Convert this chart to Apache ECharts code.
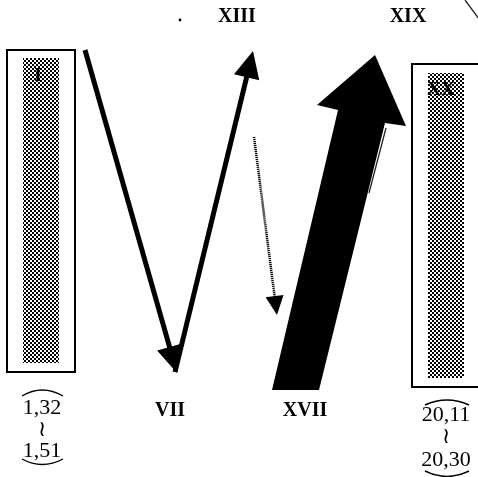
<!DOCTYPE html>
<html><head><meta charset="utf-8">
<script src="https://cdn.jsdelivr.net/npm/echarts@6/dist/echarts.min.js"></script>
<style>html,body{margin:0;padding:0;background:#fff}#c{width:478px;height:477px}</style>
</head><body><div id="c"></div>
<script>
// Diagram values (in chart units: x 0..478, y 0..477 downwards)
const boxOutlines = [[7,50,75,372],[412,64,482,387]];
const hatchBars = [[23,58,59,363],[428,73,464,378]];
const boxLabels = [['I',38,76],['XX',441,90]];
const axisLabels = [['XIII',237,17],['XIX',408,17],['VII',170,411],['XVII',305,411]];
const rangeTexts = [['1,32',42,408],['1,51',42,451],['20,11',446,415],['20,30',446,460]];
const tildes = [[42,430],[446,437]];
const arcs = [[22,396,63,396,42,384],[22,459,63,459,42,470],[425,405,469,405,447,395],[425,471,469,471,447,482]];
const thinArrows = [[85,50,177,373],[175,372,253,51]];
const dottedArrows = [[254,137,277,315]];
const thickArrow = [[272,390],[338,110],[317,105],[375,55],[406,126],[385,123],[319,390]];
const strokes = [[386,128,369,193],[465,0,479,19]];
const dots = [[180,20]];

function makePattern(){
  const c=document.createElement('canvas');c.width=4;c.height=4;
  const g=c.getContext('2d');g.fillStyle='#fff';g.fillRect(0,0,4,4);
  g.fillStyle='#000';g.fillRect(0,0,2,2);g.fillRect(2,2,2,2);
  return {image:c,repeat:'repeat'};
}
const pattern = makePattern();
const serifBold = 'bold 20px "Liberation Serif", "DejaVu Serif", serif';
const serif = '22px "Liberation Serif", "DejaVu Serif", serif';

function arrowShape(api,p1,p2,headLen,half,width,dashed){
  const a=api.coord(p1), b=api.coord(p2);
  const dx=b[0]-a[0], dy=b[1]-a[1], L=Math.hypot(dx,dy);
  const ux=dx/L, uy=dy/L, px=-uy, py=ux;
  const bx=b[0]-ux*headLen, by=b[1]-uy*headLen;
  const ex=b[0]-ux*headLen*0.7, ey=b[1]-uy*headLen*0.7;
  return [
    {type:'line',shape:{x1:a[0],y1:a[1],x2:ex,y2:ey},style:{stroke:'#000',lineWidth:width,lineDash:dashed?[1.2,0.8]:null}},
    {type:'polygon',shape:{points:[[b[0],b[1]],[bx+px*half,by+py*half],[bx-px*half,by-py*half]]},style:{fill:'#000'}}
  ];
}

const chart = echarts.init(document.getElementById('c'),null,{renderer:'canvas'});
chart.setOption({
  animation:false,
  grid:{left:0,right:0,top:0,bottom:0},
  xAxis:{type:'value',min:0,max:478,show:false},
  yAxis:{type:'value',min:0,max:477,inverse:true,show:false},
  series:[
    {type:'custom',data:hatchBars,clip:false,renderItem:(p,api)=>{
      const a=api.coord([api.value(0),api.value(1)]),b=api.coord([api.value(2),api.value(3)]);
      return {type:'rect',shape:{x:a[0],y:a[1],width:b[0]-a[0],height:b[1]-a[1]},style:{fill:pattern}};
    }},
    {type:'custom',data:boxOutlines,renderItem:(p,api)=>{
      const a=api.coord([api.value(0),api.value(1)]),b=api.coord([api.value(2),api.value(3)]);
      return {type:'rect',shape:{x:a[0],y:a[1],width:b[0]-a[0],height:b[1]-a[1]},style:{fill:'none',stroke:'#000',lineWidth:2}};
    }},
    {type:'custom',data:thinArrows,renderItem:(p,api)=>({type:'group',children:arrowShape(api,[api.value(0),api.value(1)],[api.value(2),api.value(3)],27,13,5,false)})},
    {type:'custom',data:dottedArrows,renderItem:(p,api)=>({type:'group',children:arrowShape(api,[api.value(0),api.value(1)],[api.value(2),api.value(3)],19,9,2.5,true)})},
    {type:'custom',data:[0],renderItem:(p,api)=>({type:'polygon',shape:{points:thickArrow.map(q=>api.coord(q))},style:{fill:'#000'}})},
    {type:'custom',data:strokes,renderItem:(p,api)=>{
      const a=api.coord([api.value(0),api.value(1)]),b=api.coord([api.value(2),api.value(3)]);
      return {type:'line',shape:{x1:a[0],y1:a[1],x2:b[0],y2:b[1]},style:{stroke:'#222',lineWidth:1.3}};
    }},
    {type:'custom',data:dots,renderItem:(p,api)=>{
      const a=api.coord([api.value(0),api.value(1)]);
      return {type:'circle',shape:{cx:a[0],cy:a[1],r:1.4},style:{fill:'#000'}};
    }},
    {type:'custom',data:arcs,renderItem:(p,api)=>{
      const a=api.coord([api.value(0),api.value(1)]),b=api.coord([api.value(2),api.value(3)]),c=api.coord([api.value(4),api.value(5)]);
      return {type:'bezierCurve',shape:{x1:a[0],y1:a[1],x2:b[0],y2:b[1],cpx1:c[0],cpy1:c[1]},style:{fill:'none',stroke:'#000',lineWidth:1.4}};
    }},
    {type:'custom',data:boxLabels,renderItem:(p,api)=>{
      const a=api.coord([api.value(1),api.value(2)]);
      return {type:'text',x:a[0],y:a[1],style:{text:boxLabels[p.dataIndex][0],font:'bold 19px "Liberation Serif", serif',fill:'#000',align:'center',verticalAlign:'middle'}};
    }},
    {type:'custom',data:axisLabels,renderItem:(p,api)=>{
      const a=api.coord([api.value(1),api.value(2)]);
      return {type:'text',x:a[0],y:a[1],style:{text:axisLabels[p.dataIndex][0],font:serifBold,fill:'#000',align:'center',verticalAlign:'middle'}};
    }},
    {type:'custom',data:rangeTexts,renderItem:(p,api)=>{
      const a=api.coord([api.value(1),api.value(2)]);
      return {type:'text',x:a[0],y:a[1],style:{text:rangeTexts[p.dataIndex][0],font:serif,fill:'#000',align:'center',verticalAlign:'middle'}};
    }},
    {type:'custom',data:tildes,renderItem:(p,api)=>{
      const a=api.coord([api.value(0),api.value(1)]);
      return {type:'text',x:a[0],y:a[1],style:{text:'≀',font:'22px "DejaVu Serif", serif',fill:'#000',align:'center',verticalAlign:'middle'}};
    }}
  ]
});
</script></body></html>
